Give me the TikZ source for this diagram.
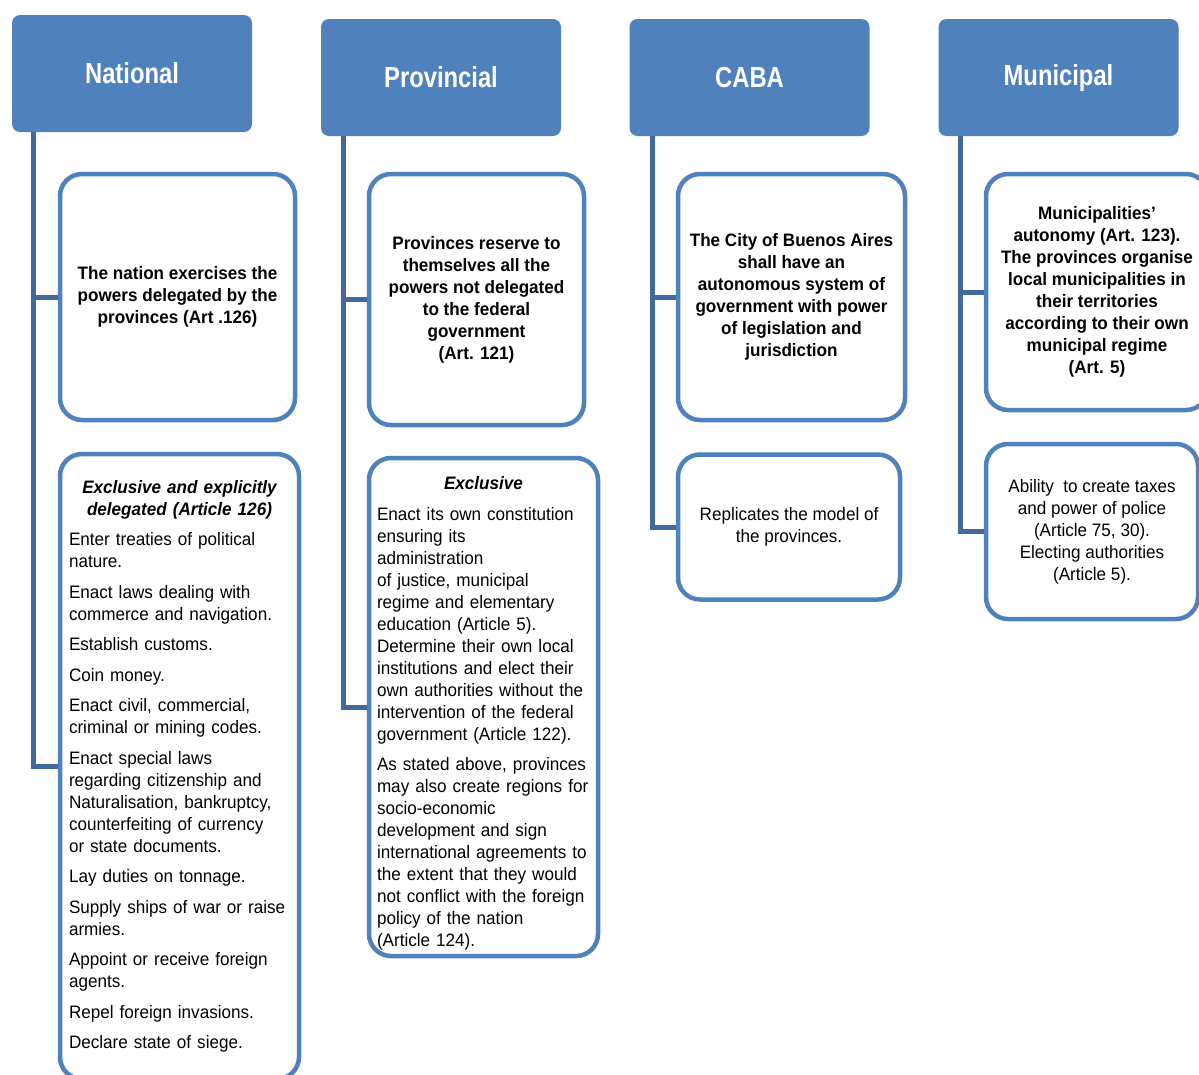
\documentclass[tikz,border=0pt]{standalone}
\usepackage{fontspec}
\setmainfont{Liberation Sans}[FakeStretch=0.95]
\newfontfamily\headfont{Liberation Sans}[FakeStretch=0.82]

\definecolor{headblue}{HTML}{4F81BD}
\definecolor{spineblue}{HTML}{41699C}

\begin{document}
\begin{tikzpicture}[x=1pt,y=-1pt,
    level/.style={fill=headblue, rounded corners=8pt, minimum width=240pt, minimum height=117pt,
      text=white, font=\headfont\fontsize{29}{33}\selectfont\bfseries},
    power/.style={draw=headblue, line width=4.5pt, fill=white, rounded corners=22pt,
      inner sep=0pt, font=\fontsize{18}{22}\selectfont},
    topbox/.style={power, align=center, font=\fontsize{18}{22}\selectfont\bfseries},
    basebox/.style={power, align=center},
    listbox/.style={power, inner xsep=9pt},
    spine/.style={draw=spineblue, line width=5pt}]
      \useasboundingbox (0,0) rectangle (1199,1074);

      % the four levels of government
      \node[level] (nat) at (132,73.5) {National};
      \node[level] (prov) at (441,77.5) {Provincial};
      \node[level] (caba) at (749.5,77.5) {CABA};
      \node[level] (mun) at (1058.5,77.5) {Municipal};

      % national
      \node[topbox, minimum width=235, minimum height=246] (nat1) at (177.5,297)
        {The nation exercises the\\ powers delegated by the\\ provinces (Art .126)};
      \node[listbox, minimum width=239, minimum height=625, text width=221] (nat2) at (179.5,766.5)
        {\setlength{\parskip}{8.5pt}\raggedright
         {\centering\bfseries\itshape Exclusive and explicitly\\ delegated (Article 126)\par}
         Enter treaties of political\\ nature.\par
         Enact laws dealing with\\ commerce and navigation.\par
         Establish customs.\par
         Coin money.\par
         Enact civil, commercial,\\ criminal or mining codes.\par
         Enact special laws\\ regarding citizenship and\\ Naturalisation, bankruptcy,\\ counterfeiting of currency\\ or state documents.\par
         Lay duties on tonnage.\par
         Supply ships of war or raise\\ armies.\par
         Appoint or receive foreign\\ agents.\par
         Repel foreign invasions.\par
         Declare state of siege.};

      % provincial
      \node[topbox, minimum width=215, minimum height=251] (prov1) at (476.5,299.5)
        {Provinces reserve to\\ themselves all the\\ powers not delegated\\ to the federal\\ government\\ (Art. 121)};
      \node[listbox, minimum width=229, minimum height=498, text width=213, inner xsep=8pt] (prov2) at (483.5,707)
        {\setlength{\parskip}{8.5pt}\raggedright
         {\centering\bfseries\itshape\rule{0pt}{26pt}Exclusive\par}
         Enact its own constitution\\ ensuring its\\ administration\\ of justice, municipal\\ regime and elementary\\ education (Article 5).\\ Determine their own local\\ institutions and elect their\\ own authorities without the\\ intervention of the federal\\ government (Article 122).\par
         As stated above, provinces\\ may also create regions for\\ socio-economic\\ development and sign\\ international agreements to\\ the extent that they would\\ not conflict with the foreign\\ policy of the nation\\ (Article 124).};

      % city of buenos aires
      \node[topbox, minimum width=227, minimum height=246] (caba1) at (791.5,297)
        {The City of Buenos Aires\\ shall have an\\ autonomous system of\\ government with power\\ of legislation and\\ jurisdiction};
      \node[basebox, minimum width=222, minimum height=145] (caba2) at (789,527)
        {Replicates the model of\\ the provinces.};

      % municipal
      \node[topbox, minimum width=222, minimum height=236] (mun1) at (1097,292)
        {Municipalities’\\ autonomy (Art. 123).\\ The provinces organise\\ local municipalities in\\ their territories\\ according to their own\\ municipal regime\\ (Art. 5)};
      \node[basebox, minimum width=212, minimum height=175] (mun2) at (1092,531.5)
        {Ability\ \ to create taxes\\ and power of police\\ (Article 75, 30).\\ Electing authorities\\ (Article 5).};

      % spines from each level down to its boxes
      \coordinate (natspine) at ([xshift=22pt]nat.south west);
      \coordinate (provspine) at ([xshift=23pt]prov.south west);
      \coordinate (cabaspine) at ([xshift=23pt]caba.south west);
      \coordinate (munspine) at ([xshift=22pt]mun.south west);
      \draw[spine] (natspine) |- (nat1.west);
      \draw[spine] (natspine) |- (nat2.west);
      \draw[spine] (provspine) |- (prov1.west);
      \draw[spine] (provspine) |- (prov2.west);
      \draw[spine] (cabaspine) |- (caba1.west);
      \draw[spine] (cabaspine) |- (caba2.west);
      \draw[spine] (munspine) |- (mun1.west);
      \draw[spine] (munspine) |- (mun2.west);
\end{tikzpicture}
\end{document}
